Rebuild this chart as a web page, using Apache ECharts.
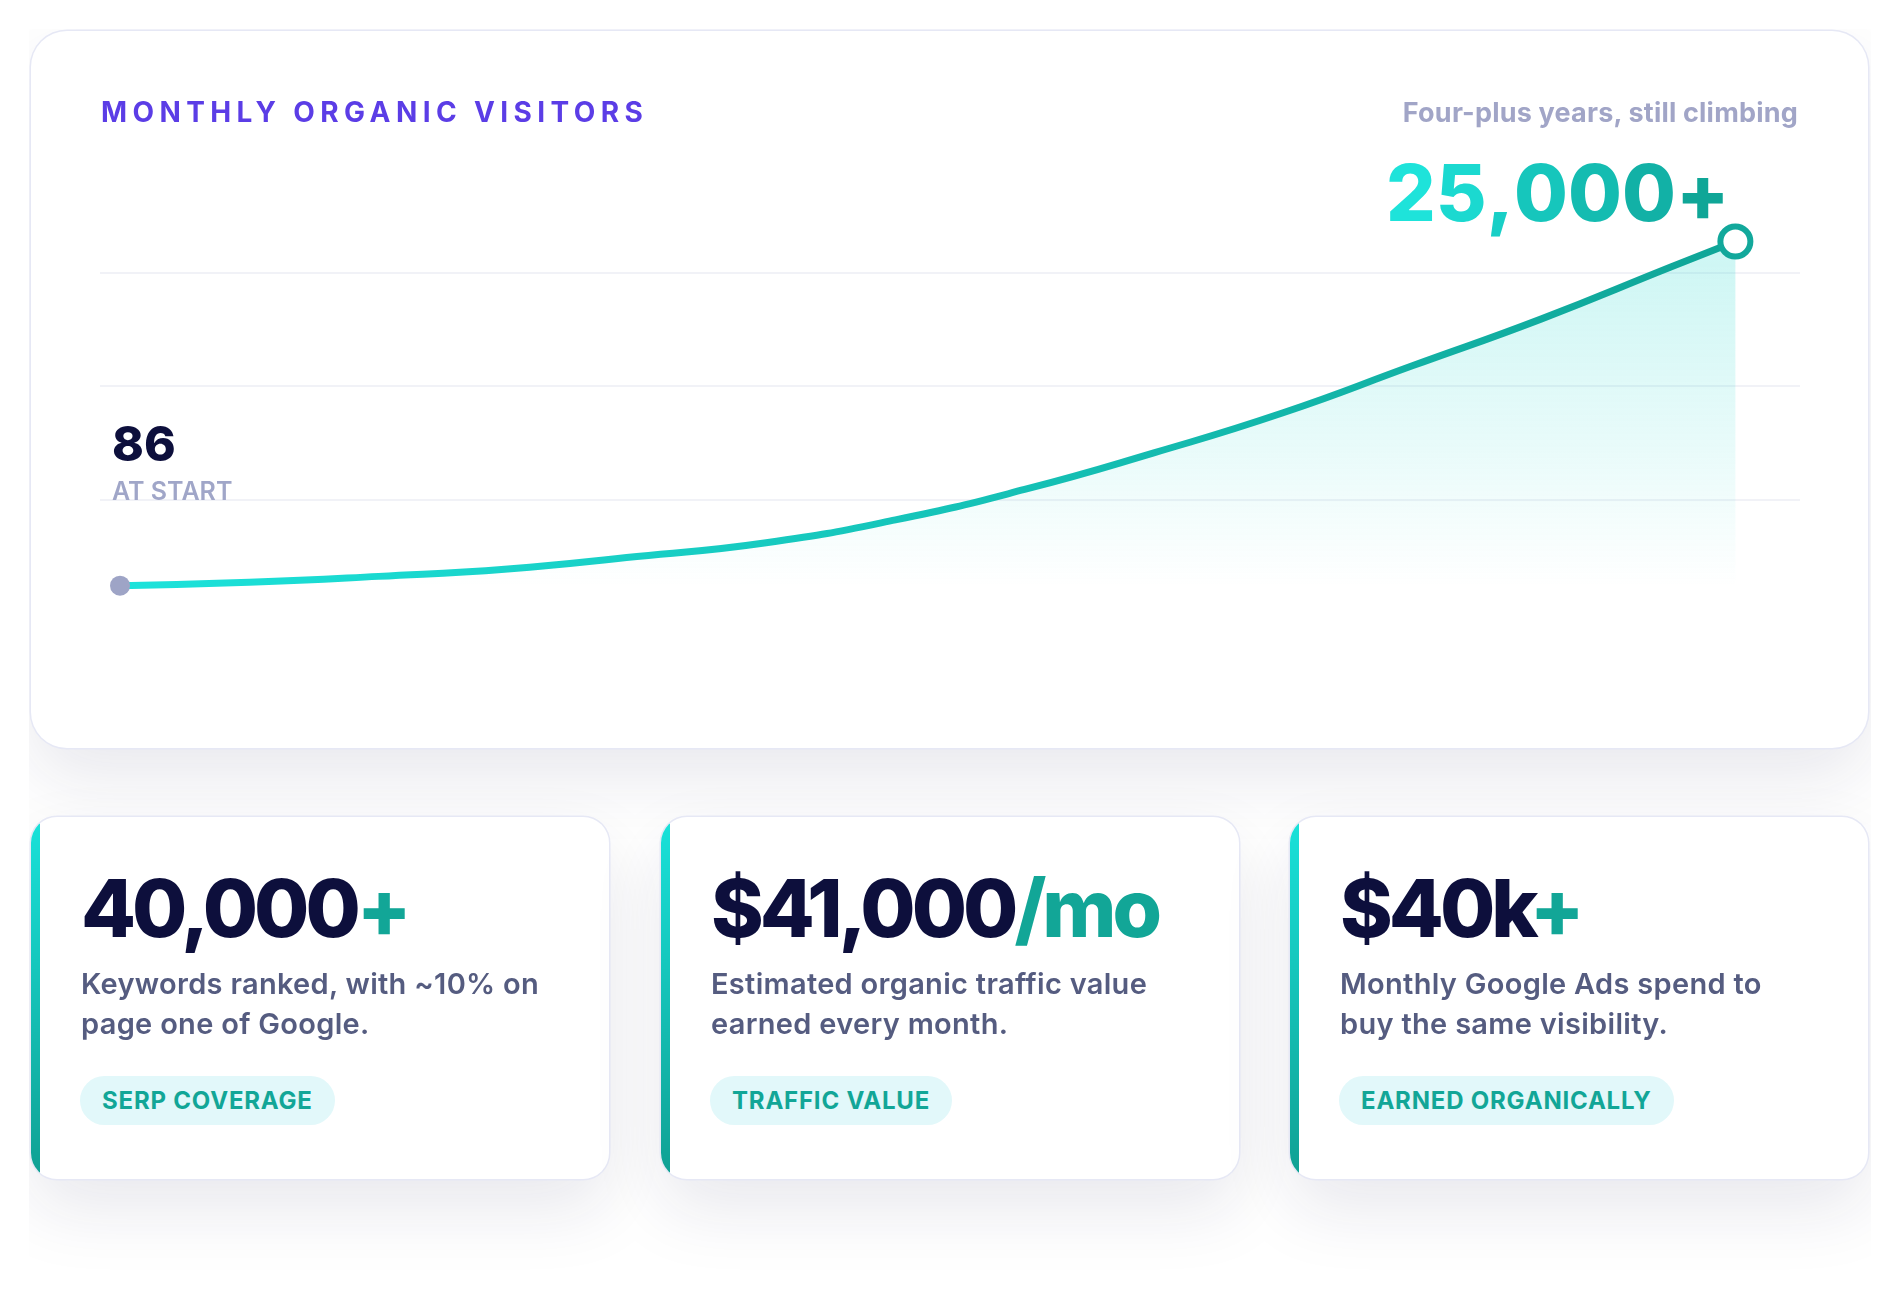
<!DOCTYPE html>
<html>
<head>
<meta charset="utf-8">
<script src="https://cdn.jsdelivr.net/npm/echarts@6/dist/echarts.min.js"></script>
<style>
  html, body { margin: 0; padding: 0; background: #ffffff; }
  body { width: 1900px; height: 1300px; position: relative; overflow: hidden; font-family: Inter, 'Noto Sans', sans-serif; }
  #wrap { position: absolute; left: 29px; top: 29px; width: 1842px; height: 1271px; overflow: hidden; }
  .card { position: absolute; background: #ffffff; box-shadow: 0 0 0 1.5px #e6e8f5, 0 30px 70px rgba(30, 32, 80, 0.10); }
  #main { left: 2px; top: 2px; width: 1837px; height: 717px; border-radius: 36px; }
  #chart { position: absolute; left: 0; top: 0; width: 1837px; height: 717px; }
  #title { position: absolute; left: 70px; top: 67px; font-size: 28px; line-height: 28px; font-weight: 700; letter-spacing: 5.4px; color: #5b3de6; white-space: nowrap; }
  #subtitle { position: absolute; right: 70px; top: 68px; font-size: 27px; line-height: 27px; font-weight: 700; letter-spacing: 0.2px; color: #a1a5c7; white-space: nowrap; }
  .stat { top: 788px; width: 578px; height: 362px; border-radius: 26px; overflow: hidden; }
  .stat::before { content: ''; position: absolute; left: 0; top: 0; bottom: 0; width: 9px; background: linear-gradient(180deg, #19e2da 0%, #10a093 100%); }
  .num { position: absolute; left: 50px; top: 51px; font-size: 80px; line-height: 80px; font-weight: 800; letter-spacing: -4px; color: #0d0f3c; white-space: nowrap; }
  .num span { color: #12a697; }
  .desc { position: absolute; left: 50px; top: 147px; font-size: 29px; line-height: 40px; font-weight: 600; letter-spacing: 0.3px; color: #555c80; white-space: nowrap; }
  .pill { position: absolute; left: 49px; top: 259px; height: 49px; padding: 0 22px; border-radius: 25px; background: #e2f8fa; font-size: 24px; line-height: 49px; font-weight: 700; letter-spacing: 0.8px; color: #12a697; white-space: nowrap; }
</style>
</head>
<body>
<div id="wrap">
  <div class="card" id="main">
    <div id="chart"></div>
    <div id="title"></div>
    <div id="subtitle"></div>
  </div>
</div>
<script>
// ---- Data ----
const chartTitle = 'MONTHLY ORGANIC VISITORS';
const chartSubtitle = 'Four-plus years, still climbing';
const months = [0, 4, 8, 12, 16, 20, 24, 28, 32, 36, 40, 44, 48, 50];
const visitors = [86, 330, 760, 1300, 2200, 3200, 4850, 7050, 9700, 12600, 16000, 19400, 23150, 25000];
const startCaption = 'AT START';
const endSuffix = '+';

const statValues = ['40,000', '$41,000', '$40k'];
const statSuffixes = ['+', '/mo', '+'];
const statLines1 = ['Keywords ranked, with ~10% on', 'Estimated organic traffic value', 'Monthly Google Ads spend to'];
const statLines2 = ['page one of Google.', 'earned every month.', 'buy the same visibility.'];
const statTags = ['SERP COVERAGE', 'TRAFFIC VALUE', 'EARNED ORGANICALLY'];

// ---- HTML parts ----
document.getElementById('title').textContent = chartTitle;
document.getElementById('subtitle').textContent = chartSubtitle;
const wrap = document.getElementById('wrap');
const statLefts = [2, 632, 1261];
statValues.forEach((v, i) => {
  const c = document.createElement('div');
  c.className = 'card stat';
  c.style.left = statLefts[i] + 'px';
  const n = document.createElement('div'); n.className = 'num';
  n.appendChild(document.createTextNode(v));
  const s = document.createElement('span'); s.textContent = statSuffixes[i]; n.appendChild(s);
  const d = document.createElement('div'); d.className = 'desc';
  d.appendChild(document.createTextNode(statLines1[i]));
  d.appendChild(document.createElement('br'));
  d.appendChild(document.createTextNode(statLines2[i]));
  const p = document.createElement('div'); p.className = 'pill'; p.textContent = statTags[i];
  c.appendChild(n); c.appendChild(d); c.appendChild(p);
  wrap.appendChild(c);
});

// ---- Chart ----
const chart = echarts.init(document.getElementById('chart'), null, { renderer: 'canvas' });
const FONT = 'Inter';
const endColors = ['#1ee3da', '#1bd9d0', '#18cfc6', '#16c6bc', '#14bcb1', '#12b1a6', '#0fa697'];
const last = visitors.length - 1;
const endText = visitors[last].toLocaleString('en-US') + endSuffix;
const endRich = {};
endColors.forEach((c, i) => {
  endRich['c' + i] = { color: c, fontSize: 78, fontWeight: 800, fontFamily: FONT, lineHeight: 80 };
});
const endFormatted = endText.split('').map((ch, i) => '{c' + Math.min(i, endColors.length - 1) + '|' + ch + '}').join('');

const seriesData = months.map((m, i) => {
  const item = { value: [m, visitors[i]] };
  if (i === 0) {
    item.symbol = 'circle';
    item.symbolSize = 20;
    item.itemStyle = { color: '#9ea4c6', borderWidth: 0 };
    item.label = {
      show: true, position: 'top', distance: 0, align: 'left', verticalAlign: 'bottom',
      offset: [-8, -65],
      formatter: '{v|' + visitors[0] + '}\n{s|' + startCaption + '}',
      rich: {
        v: { fontSize: 48, fontWeight: 800, fontFamily: FONT, color: '#0d0f3c', lineHeight: 57 },
        s: { fontSize: 25, fontWeight: 600, fontFamily: FONT, color: '#a0a6c8', lineHeight: 36 }
      }
    };
  }
  if (i === last) {
    item.symbol = 'circle';
    item.symbolSize = 30;
    item.itemStyle = { color: '#ffffff', borderColor: '#12a89b', borderWidth: 6 };
    item.label = {
      show: true, position: 'top', distance: 0, align: 'right', verticalAlign: 'bottom',
      offset: [-6, 14],
      formatter: endFormatted,
      rich: endRich
    };
  }
  return item;
});

chart.setOption({
  animation: false,
  grid: { left: 69, top: 127.6, width: 1700, height: 454.8 },
  xAxis: { type: 'value', min: -0.62, max: 52, show: false },
  yAxis: [
    { type: 'value', min: -1920, max: 31000, show: false, splitLine: { show: false } },
    {
      type: 'value', min: 0, max: 4, interval: 1, position: 'left',
      axisLine: { show: false }, axisTick: { show: false }, axisLabel: { show: false },
      splitLine: { show: true, showMinLine: false, showMaxLine: false, lineStyle: { color: '#eceef5', width: 1.5 } }
    }
  ],
  series: [{
    type: 'line',
    yAxisIndex: 0,
    data: seriesData,
    smooth: 0.5,
    showSymbol: true,
    symbol: 'none',
    lineStyle: {
      width: 7,
      cap: 'round',
      color: new echarts.graphic.LinearGradient(0, 0, 1, 0, [
        { offset: 0, color: '#1ce3db' },
        { offset: 1, color: '#0fa597' }
      ])
    },
    areaStyle: {
      color: new echarts.graphic.LinearGradient(0, 0, 0, 1, [
        { offset: 0, color: 'rgba(28, 214, 204, 0.32)' },
        { offset: 0.6, color: 'rgba(28, 214, 204, 0.14)' },
        { offset: 1, color: 'rgba(28, 214, 204, 0)' }
      ])
    },
    z: 3
  }]
});
</script>
</body>
</html>
